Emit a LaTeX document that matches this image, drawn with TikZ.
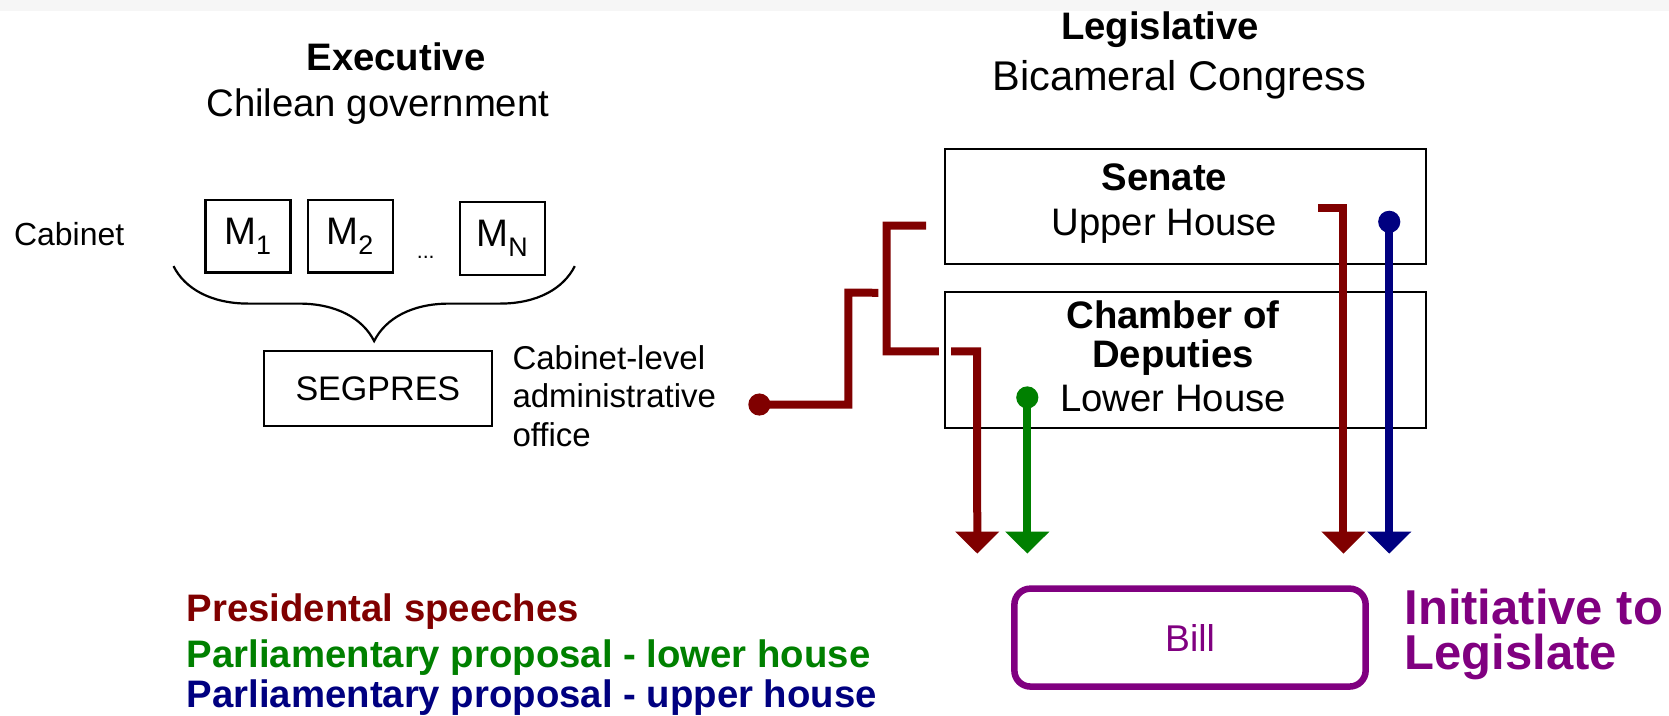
\documentclass[tikz,border=0pt]{standalone}
\usepackage{fontspec}
\setmainfont{Liberation Sans}
\usetikzlibrary{arrows.meta}
\usetikzlibrary{decorations.pathreplacing}

\definecolor{speech}{HTML}{800000}
\definecolor{lowerc}{HTML}{008000}
\definecolor{upperc}{HTML}{000080}
\definecolor{billc}{HTML}{800080}
\definecolor{topband}{HTML}{F6F6F6}

\begin{document}
\begin{tikzpicture}[x=1pt,y=-1pt,scale=1.0644,every node/.append style={transform shape},
  box/.style={draw=black, line width=2.2pt, inner sep=0pt},
  big/.style={font=\fontsize{36}{42}\selectfont},
  small/.style={font=\fontsize{31}{36}\selectfont},
  tip/.style={-{Triangle[width=43pt,length=22pt]}},
  route/.style={line width=8pt},
  dotroute/.style={route, {Circle[length=22pt]}-{Triangle[width=43pt,length=22pt]}}]
\useasboundingbox (0,0) rectangle (1568,672);
\fill[topband] (0,0) rectangle (1568,10);

% executive side
\node[big] (exec) at (372,53) {\textbf{Executive}};
\node[big] (gov) at (355,100) {Chilean government};
\node[font=\fontsize{30}{34}\selectfont] (cab) at (65,220) {Cabinet};
\node[box, big, minimum width=80pt, minimum height=68pt] (m1) at (233,222) {M\textsubscript{1}};
\node[box, big, minimum width=80pt, minimum height=68pt] (m2) at (329,222) {M\textsubscript{2}};
\node[font=\fontsize{20}{24}\selectfont] (dots) at (400,242) {...};
\node[box, big, minimum width=80pt, minimum height=68pt] (mn) at (472,224) {M\textsubscript{N}};
\draw[line width=2.2pt, decorate, decoration={brace, amplitude=75pt}] (540,250) -- (163,250);
\node[box, font=\fontsize{32}{36}\selectfont, minimum width=214pt, minimum height=70pt] (seg) at (355,365) {SEGPRES};
\node[small, anchor=west, align=left] (office) at (478,372) {Cabinet-level\\administrative\\office};

% legislative side
\node[big] (leg) at (1090,28) {\textbf{Legislative}};
\node[font=\fontsize{39}{44}\selectfont] (cong) at (1108,75) {Bicameral Congress};
\node[box, minimum width=452pt, minimum height=108pt] (senate) at (1114,194) {};
\node[box, minimum width=452pt, minimum height=128pt] (chamber) at (1114,338) {};
\node[big, align=center] (sentxt) at (1094,191) {\textbf{Senate}\\Upper House};
\node[big, align=center] (chtxt) at (1102,335) {\textbf{Chamber of}\\[-6pt]\textbf{Deputies}\\Lower House};

% routes to the bill
\coordinate (sp0) at (703,380);
\coordinate (sp1) at (825,275);
\coordinate (sp2) at (870,212);
\coordinate (sp3) at (1238,195);
\coordinate (lo0) at (965,363);
\coordinate (up0) at (1305,198);
\coordinate (a1) at (918,520);
\coordinate (a2) at (965,520);
\coordinate (a3) at (1262,520);
\coordinate (a4) at (1305,520);
\draw[route, color=speech, {Circle[length=22pt]}-] (sp0) -| (797,275) -- (sp1);
\draw[route, color=speech, tip] (sp2) -- (833,212) |- (918,330) -- (a1);
\draw[route, color=speech, tip] (sp3) -| (a3);
\draw[dotroute, color=lowerc] (lo0) -- (a2);
\draw[dotroute, color=upperc] (up0) -- (a4);
\draw[white, line width=12pt] (888,315) -- (888,345);
\draw[line width=2.2pt] (888,300) -- (888,360);

% bill
\node[draw=billc, line width=6.5pt, rounded corners=16pt, minimum width=330pt, minimum height=92pt,
  text=billc, font=\fontsize{35}{40}\selectfont] (bill) at (1118,599) {Bill};
\node[anchor=west, align=left, text=billc, font=\bfseries\fontsize{46}{42}\selectfont] (init) at (1316,596)
  {Initiative to\\Legislate};

% legend
\node[anchor=west, text=speech, font=\bfseries\fontsize{36}{40}\selectfont] (k1) at (172,575) {Presidental speeches};
\node[anchor=west, text=lowerc, font=\bfseries\fontsize{36}{40}\selectfont] (k2) at (172,618) {Parliamentary proposal - lower house};
\node[anchor=west, text=upperc, font=\bfseries\fontsize{36}{40}\selectfont] (k3) at (172,655) {Parliamentary proposal - upper house};
\end{tikzpicture}
\end{document}
